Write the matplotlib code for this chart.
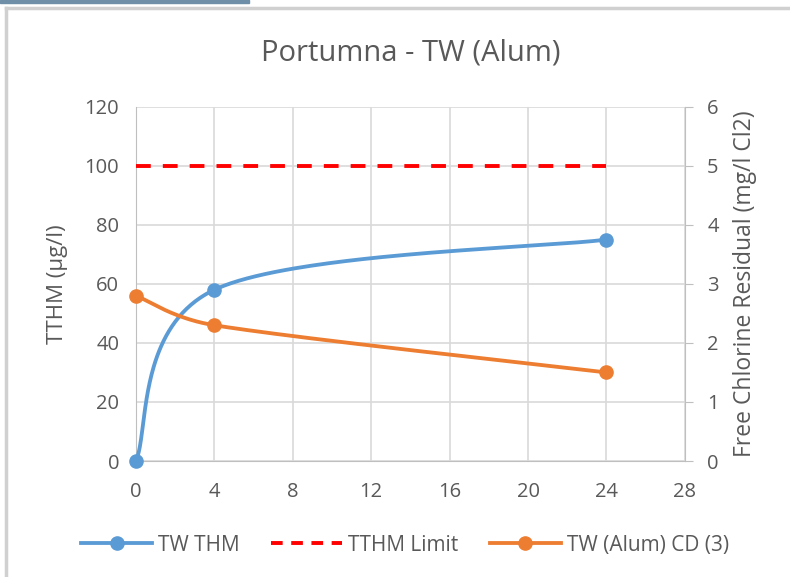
import numpy as np
import matplotlib.pyplot as plt
from matplotlib.patches import Rectangle
from matplotlib.lines import Line2D

plt.rcParams['font.family'] = ['Open Sans', 'DejaVu Sans']

# данные
hours = [0, 4, 24]
tw_thm = [0, 58, 75]
tthm_limit = [100, 100, 100]
chlorine = [2.8, 2.3, 1.5]


def excel_smooth(a, xs, ys, n=80):
    # сглаживание как в Excel: Безье в пиксельных координатах,
    # длина касательной не больше половины отрезка
    p = a.transData.transform(np.column_stack([xs, ys]).astype(float))
    pts = np.vstack([p[0], p, p[-1]])
    out = []
    t = np.linspace(0, 1, n)[:, None]
    for i in range(1, len(pts) - 2):
        p0, p3 = pts[i], pts[i + 1]
        L = np.hypot(*(p3 - p0))
        t1 = (pts[i + 1] - pts[i - 1]) / 6
        t2 = (pts[i + 2] - pts[i]) / 6
        for tv in (t1, t2):
            ln = np.hypot(*tv)
            if ln > L / 2:
                tv *= (L / 2) / ln
        c1 = p0 + t1
        c2 = p3 - t2
        seg = (1 - t) ** 3 * p0 + 3 * (1 - t) ** 2 * t * c1 + 3 * (1 - t) * t ** 2 * c2 + t ** 3 * p3
        out.append(seg)
    seg = a.transData.inverted().transform(np.vstack(out))
    return seg[:, 0], seg[:, 1]


blue = '#5B9BD5'
orange = '#ED7D31'
txt = '#595959'
grid = '#D9D9D9'
axc = '#BFBFBF'
red_dash = (3.8, 3.1)

fig = plt.figure(figsize=(7.9, 5.77), dpi=100)
# рамка окна
fig.patches.append(Rectangle((0, 0.994), 0.315, 0.006, transform=fig.transFigure,
                             color='#6F8FA8', zorder=0))
fig.add_artist(Line2D([0.007, 1], [0.987, 0.987], color='#D0D0D0', lw=2.5))
fig.add_artist(Line2D([0.007, 0.007], [0, 0.987], color='#D0D0D0', lw=2.5))

ax = fig.add_axes([0.172, 0.201, 0.695, 0.614])
ax2 = ax.twinx()

ax.set_xlim(0, 28)
ax.set_ylim(0, 120)
ax2.set_ylim(0, 6)
ax.set_xticks(range(0, 29, 4))
ax.set_yticks(range(0, 121, 20))
ax2.set_yticks(range(0, 7))

ax.grid(True, color=grid, lw=1.2)
ax.set_axisbelow(True)
for a in (ax, ax2):
    for s in a.spines.values():
        s.set_visible(False)
ax.spines['bottom'].set_visible(True)
ax.spines['bottom'].set_color(axc)
ax.spines['left'].set_visible(True)
ax.spines['left'].set_color(axc)
ax2.spines['right'].set_visible(True)
ax2.spines['right'].set_color(axc)

ax.tick_params(axis='y', length=0, labelsize=14.5, colors=txt, pad=12)
ax.tick_params(axis='x', length=0, labelsize=14.5, colors=txt, pad=15)
ax2.tick_params(axis='y', length=6, labelsize=14.5, colors=txt, pad=10)
ax2.tick_params(axis='y', color=axc)

sx, sy = excel_smooth(ax, hours, tw_thm)
ax.plot(sx, sy, color=blue, lw=2.75, zorder=3)
ax.plot(hours, tw_thm, 'o', color=blue, ms=9.5, zorder=4, clip_on=False)
ax.plot(hours, tthm_limit, color='#FF0000', lw=2.8, dashes=red_dash, zorder=3)

cx, cy = excel_smooth(ax2, hours, chlorine)
ax2.plot(cx, cy, color=orange, lw=2.75, zorder=3)
ax2.plot(hours, chlorine, 'o', color=orange, ms=9.5, zorder=4, clip_on=False)

ax.set_ylabel('TTHM (µg/l)', fontsize=16, color=txt, labelpad=12)
ax2.set_ylabel('Free Chlorine Residual (mg/l Cl2)', fontsize=16.5, color=txt, labelpad=10)
ax.set_title('Portumna - TW (Alum)', fontsize=21, color=txt, pad=33)

handles = [
    Line2D([], [], color=blue, lw=2.75, marker='o', ms=9.5),
    Line2D([], [], color='#FF0000', lw=2.8, dashes=(3.0, 2.2)),
    Line2D([], [], color=orange, lw=2.75, marker='o', ms=9.5),
]
labels = ['TW THM', 'TTHM Limit', 'TW (Alum) CD (3)']
fig.legend(handles, labels, loc='center', bbox_to_anchor=(0.513, 0.055), ncol=3,
           frameon=False, fontsize=15, handlelength=3.4, handletextpad=0.3,
           columnspacing=1.5, labelcolor=txt)

fig.savefig('out.png', dpi=100)
